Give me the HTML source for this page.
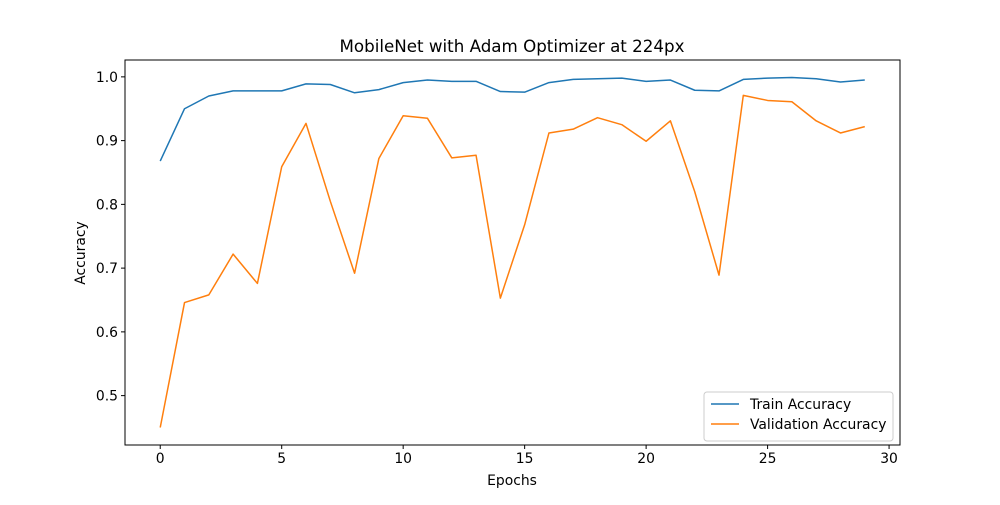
<!DOCTYPE html>
<html><head><meta charset="utf-8"><style>
body{margin:0;background:#fff;font-family:"Liberation Sans","DejaVu Sans",sans-serif}
svg text{font-family:"DejaVu Sans","Liberation Sans",sans-serif;fill:#000}
</style></head><body>
<svg id="chart" width="1000" height="500" xmlns="http://www.w3.org/2000/svg">
<rect width="1000" height="500" fill="#fff"/>
<text x="512" y="52" font-size="16.7" text-anchor="middle">MobileNet with Adam Optimizer at 224px</text>
<g id="axes"></g>
<g id="lines"></g>
<rect x="125" y="60" width="775" height="385" fill="none" stroke="#000" stroke-width="1"/>
<text x="512" y="485" font-size="13.9" text-anchor="middle">Epochs</text>
<text x="85" y="253" font-size="13.9" text-anchor="middle" transform="rotate(-90 85 253)">Accuracy</text>
<g>
<rect x="704" y="392" width="189" height="49" rx="3" fill="#fff" fill-opacity="0.8" stroke="#ccc"/>
<line x1="711" y1="404" x2="739" y2="404" stroke="#1f77b4" stroke-width="1.5"/>
<text x="750" y="409" font-size="13.9">Train Accuracy</text>
<line x1="711" y1="424" x2="739" y2="424" stroke="#ff7f0e" stroke-width="1.5"/>
<text x="750" y="429" font-size="13.9">Validation Accuracy</text>
</g>
</svg>
<script>
const epochs=[...Array(30).keys()];
const trainAcc=[.868,.950,.970,.978,.978,.978,.989,.988,.975,.980,.991,.995,.993,.993,.977,.976,.991,.996,.997,.998,.993,.995,.979,.978,.996,.998,.999,.997,.992,.995];
const valAcc=[.450,.646,.658,.722,.676,.859,.927,.805,.692,.872,.939,.935,.873,.877,.653,.768,.912,.918,.936,.925,.899,.931,.820,.689,.971,.963,.961,.931,.912,.922];
const xTicks=[0,5,10,15,20,25,30];
const yTicks=[0.5,0.6,0.7,0.8,0.9,1.0];
const L=125,R=900,T=60,B=445;
const all=trainAcc.concat(valAcc);
const xmin=0-(epochs.length-1)*0.05,xmax=(epochs.length-1)*1.05;
const dmin=Math.min(...all),dmax=Math.max(...all),pad=(dmax-dmin)*0.05;
const ymin=dmin-pad,ymax=dmax+pad;
const xs=v=>L+(v-xmin)/(xmax-xmin)*(R-L);
const ys=v=>B-(v-ymin)/(ymax-ymin)*(B-T);
const NS="http://www.w3.org/2000/svg";
const axes=document.getElementById('axes'),lines=document.getElementById('lines');
function mk(t,a,p){const e=document.createElementNS(NS,t);for(const k in a)e.setAttribute(k,a[k]);p.appendChild(e);return e;}
xTicks.forEach(v=>{const x=xs(v);
const t=mk('line',{x1:x,x2:x,y1:B,y2:B+4,stroke:'#000'},axes);


const l=mk('text',{x:x,y:B+18,'font-size':13.9,'text-anchor':'middle'},axes);l.textContent=v;

});
yTicks.forEach(v=>{const y=ys(v);
const t=mk('line',{x1:L-4,x2:L,y1:y,y2:y,stroke:'#000'},axes);


const l=mk('text',{x:L-7,y:y+5,'font-size':13.9,'text-anchor':'end'},axes);l.textContent=v.toFixed(1);

});
function series(d,c,n){const p=mk('polyline',{points:d.map((v,i)=>xs(epochs[i])+','+ys(v)).join(' '),fill:'none',stroke:c,'stroke-width':1.5,'stroke-linejoin':'round'},lines);

}
series(trainAcc,'#1f77b4','train-accuracy-line');
series(valAcc,'#ff7f0e','validation-accuracy-line');
</script>
</body></html>
